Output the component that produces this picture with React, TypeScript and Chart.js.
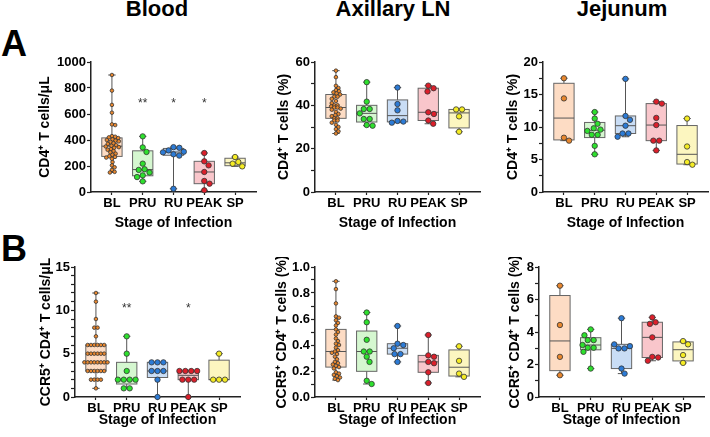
import React, { useEffect, useRef } from 'react';
import { Chart, registerables } from 'chart.js';

Chart.register(...registerables);

const FONT = "'Liberation Sans', Arial, Helvetica, sans-serif";

// ---------- categories & styling ----------
const categories = ['BL', 'PRU', 'RU', 'PEAK', 'SP'];
const pointColors = ['#E8872E', '#2EE02E', '#2C7BD6', '#DC1F2B', '#F5EC24'];
const boxColors = ['#FDDCC4', '#D5F7D0', '#C9DDF5', '#F9C6CB', '#FCF6C0'];
const columnTitles = ['Blood', 'Axillary LN', 'Jejunum'];
const xAxisTitle = 'Stage of Infection';

// ---------- Panel A: CD4+ T cells ----------
const aBloodBL = [900, 780, 670, 610, 520, 515, 430, 425, 420, 415, 405, 400, 395, 390, 385, 375, 370, 360, 355, 350, 345, 340, 330, 325, 315, 305, 295, 285, 275, 270, 265, 255, 230, 205, 190, 170, 155, 150];
const aBloodPRU = [428, 343, 308, 218, 175, 170, 150, 128, 115, 82];
const aBloodRU = [345, 340, 320, 310, 305, 290, 280, 25];
const aBloodPEAK = [300, 236, 205, 154, 85, 64, 13];
const aBloodSP = [269, 231, 218, 197];
const aBloodStars = ['', '**', '*', '*', ''];
const aBloodStarLevel = 680;

const aAxBL = [56, 53, 49, 48, 47, 46.5, 46, 45.5, 45, 44, 44, 43, 42, 41, 40, 40, 39.5, 39, 39, 38.5, 38, 37, 36, 35.5, 35, 34, 34, 33, 33, 32, 31, 30, 29, 28, 27];
const aAxPRU = [50.7, 41.7, 38.3, 38.3, 36.3, 33.7, 33.7, 30.9, 30.6];
const aAxRU = [48.2, 40.6, 37.7, 32.8, 32.5, 32.0];
const aAxPEAK = [49.1, 47.9, 46.4, 36.8, 36.0, 33.0, 31.5];
const aAxSP = [38.1, 38.1, 34.9, 27.8];

const aJejBL = [17.5, 14.4, 8.35, 7.9];
const aJejPRU = [12.3, 11.3, 10.5, 9.8, 9.6, 9.4, 8.8, 8.8, 7.1, 5.8];
const aJejRU = [17.4, 11.7, 11.1, 10.2, 9.0, 9.0, 8.5];
const aJejPEAK = [13.9, 13.6, 11.4, 10.3, 7.9, 7.9, 6.4];
const aJejSP = [11.3, 7.0, 4.6, 4.2];

// ---------- Panel B: CCR5+ CD4+ T cells ----------
const bBloodBL = [12, 11, 9, 8, 8, 7, 6, 6, 6, 6, 6, 6, 5, 5, 5, 5, 5, 5, 4, 4, 4, 4, 4, 4, 4, 4, 3, 3, 3, 3, 3, 3, 2, 2, 2, 2, 1];
const bBloodPRU = [7, 5, 3, 2, 2, 2, 2, 1, 1];
const bBloodRU = [4, 4, 4, 3, 3, 3, 2, 0];
const bBloodPEAK = [3, 3, 3, 3, 2, 2, 2, 0];
const bBloodSP = [5, 2, 2, 2];
const bBloodStars = ['', '**', '', '*', ''];
const bBloodStarLevel = 10.2;

const bAxBL = [0.89, 0.83, 0.72, 0.62, 0.61, 0.59, 0.57, 0.55, 0.52, 0.5, 0.48, 0.45, 0.43, 0.41, 0.4, 0.38, 0.36, 0.35, 0.34, 0.33, 0.31, 0.29, 0.27, 0.26, 0.25, 0.24, 0.23, 0.22, 0.19, 0.18, 0.17, 0.16, 0.15, 0.14, 0.13];
const bAxPRU = [0.65, 0.575, 0.44, 0.35, 0.35, 0.31, 0.27, 0.125, 0.1];
const bAxRU = [0.546, 0.41, 0.4, 0.375, 0.33, 0.33, 0.27];
const bAxPEAK = [0.477, 0.32, 0.31, 0.27, 0.26, 0.19, 0.108];
const bAxSP = [0.39, 0.278, 0.18, 0.155];

const bJejBL = [6.85, 4.43, 2.47, 1.34];
const bJejPRU = [4.16, 3.8, 3.5, 3.5, 3.2, 3.03, 3.03, 2.78, 1.75];
const bJejRU = [4.85, 3.24, 3.13, 2.99, 2.99, 1.75, 1.44];
const bJejPEAK = [4.9, 4.6, 4.5, 3.67, 2.47, 2.43, 2.23];
const bJejSP = [3.44, 3.24, 2.58, 2.1];

// ---------- geometry ----------
const PLOT_W = 165;
const PLOT_H = 130;
const PAD_TOP = 10;
const PAD_RIGHT = 6;
const X_AXIS_H = 40;
const X_MIN = -0.68;
const X_MAX = 4.68;
const BOX_HALF = 0.33;
const CAP_HALF = 0.12;

function quantile(sorted: number[], p: number) {
  const n = sorted.length;
  const pos = (n + 1) * p;
  if (pos <= 1) return sorted[0];
  if (pos >= n) return sorted[n - 1];
  const lo = Math.floor(pos);
  const f = pos - lo;
  return sorted[lo - 1] + f * (sorted[lo] - sorted[lo - 1]);
}

// beeswarm offsets (pixels) for one column
function swarm(vals: number[], d: number, pxPerY: number) {
  const xs = new Array(vals.length).fill(0);
  const placed: number[] = [];
  const groups = new Map<number, number[]>();
  vals.forEach((v, i) => {
    const g = groups.get(v) || [];
    g.push(i);
    groups.set(v, g);
  });
  groups.forEach((idxs) => {
    if (idxs.length > 1) {
      idxs.forEach((i, k) => {
        xs[i] = (k - (idxs.length - 1) / 2) * d;
        placed.push(i);
      });
    }
  });
  const singles = vals
    .map((_, i) => i)
    .filter((i) => !placed.includes(i))
    .sort((a, b) => vals[b] - vals[a]);
  for (const i of singles) {
    const yi = vals[i] * pxPerY;
    const near = placed.filter((j) => Math.abs(vals[j] * pxPerY - yi) < d);
    const cands = [0];
    near.forEach((j) => {
      const dy = vals[j] * pxPerY - yi;
      const dx = Math.sqrt(Math.max(d * d - dy * dy, 0));
      cands.push(xs[j] + dx + 0.01, xs[j] - dx - 0.01);
    });
    cands.sort((a, b) => Math.abs(a) - Math.abs(b));
    for (const c of cands) {
      const ok = near.every((j) => {
        const dy = vals[j] * pxPerY - yi;
        const dx = c - xs[j];
        return dx * dx + dy * dy >= d * d - 0.02;
      });
      if (ok) {
        xs[i] = c;
        break;
      }
    }
    placed.push(i);
  }
  return xs;
}

type PanelProps = {
  values: number[][];
  yMax: number;
  yMajor: number;
  yMinor: number;
  decimals: number;
  yTitle: string;
  stars?: string[];
  starLevel?: number;
  plotLeft: number;
  plotTop: number;
  wy: number;
  xTitlePad: number;
};

function Panel(p: PanelProps) {
  const ref = useRef<HTMLCanvasElement>(null);
  const width = p.wy + PLOT_W + PAD_RIGHT;
  const height = PAD_TOP + PLOT_H + X_AXIS_H;

  useEffect(() => {
    const pxPerX = PLOT_W / (X_MAX - X_MIN);
    const pxPerY = PLOT_H / p.yMax;
    const stats = p.values.map((v) => {
      const s = [...v].sort((a, b) => a - b);
      return { min: s[0], max: s[s.length - 1], q1: quantile(s, 0.25), med: quantile(s, 0.5), q3: quantile(s, 0.75) };
    });
    const pts: { x: number; y: number }[] = [];
    const radii: number[] = [];
    const fills: string[] = [];
    p.values.forEach((vals, ci) => {
      const dense = vals.length > 20;
      const r = dense ? 1.8 : 2.7;
      const d = dense ? 3.3 : 2 * r + 0.5;
      const offs = swarm(vals, d, pxPerY);
      vals.forEach((v, k) => {
        pts.push({ x: ci + offs[k] / pxPerX, y: v });
        radii.push(r);
        fills.push(pointColors[ci]);
      });
    });

    const boxPlugin = {
      id: 'boxes',
      beforeDatasetsDraw(chart: any) {
        const { ctx, scales } = chart;
        const x = scales.x;
        const y = scales.y;
        ctx.save();
        stats.forEach((s, i) => {
          const cx = x.getPixelForValue(i);
          const hw = x.getPixelForValue(i + BOX_HALF) - cx;
          const cw = x.getPixelForValue(i + CAP_HALF) - cx;
          const yMin = y.getPixelForValue(s.min);
          const yMaxP = y.getPixelForValue(s.max);
          const yQ1 = y.getPixelForValue(s.q1);
          const yQ3 = y.getPixelForValue(s.q3);
          const yMed = y.getPixelForValue(s.med);
          ctx.strokeStyle = '#555';
          ctx.lineWidth = 1;
          ctx.beginPath();
          ctx.moveTo(cx, yMaxP);
          ctx.lineTo(cx, yMin);
          ctx.moveTo(cx - cw, yMaxP);
          ctx.lineTo(cx + cw, yMaxP);
          ctx.moveTo(cx - cw, yMin);
          ctx.lineTo(cx + cw, yMin);
          ctx.stroke();
          ctx.fillStyle = boxColors[i];
          ctx.fillRect(cx - hw, yQ3, 2 * hw, yQ1 - yQ3);
          ctx.strokeStyle = '#666';
          ctx.strokeRect(cx - hw, yQ3, 2 * hw, yQ1 - yQ3);
          ctx.strokeStyle = '#555';
          ctx.beginPath();
          ctx.moveTo(cx - hw, yMed);
          ctx.lineTo(cx + hw, yMed);
          ctx.stroke();
        });
        ctx.restore();
      },
      afterDatasetsDraw(chart: any) {
        if (!p.stars || p.starLevel === undefined) return;
        const { ctx, scales } = chart;
        ctx.save();
        ctx.fillStyle = '#333';
        ctx.font = `12px ${FONT}`;
        ctx.textAlign = 'center';
        ctx.textBaseline = 'middle';
        p.stars.forEach((s, i) => {
          if (!s) return;
          ctx.fillText(s, scales.x.getPixelForValue(i), scales.y.getPixelForValue(p.starLevel));
        });
        ctx.restore();
      },
    };

    const isMajor = (v: number) => Math.abs(v / p.yMajor - Math.round(v / p.yMajor)) < 1e-6;

    const chart = new Chart(ref.current as HTMLCanvasElement, {
      type: 'scatter',
      data: {
        datasets: [
          {
            data: pts,
            pointRadius: radii,
            pointBackgroundColor: fills,
            pointBorderColor: '#333',
            pointBorderWidth: 0.8,
            showLine: false,
            clip: false,
          } as any,
        ],
      },
      options: {
        responsive: false,
        animation: false,
        events: [],
        layout: { padding: { top: PAD_TOP, right: PAD_RIGHT, left: 0, bottom: 0 } },
        plugins: { legend: { display: false }, tooltip: { enabled: false } },
        scales: {
          x: {
            type: 'linear',
            min: X_MIN,
            max: X_MAX,
            afterBuildTicks: (ax: any) => {
              ax.ticks = categories.map((_, i) => ({ value: i }));
            },
            afterFit: (ax: any) => {
              ax.height = X_AXIS_H;
            },
            ticks: {
              callback: (v: any) => categories[Math.round(v)] ?? '',
              font: { size: 13, weight: 'bold', family: FONT },
              color: '#000',
              padding: 1,
              autoSkip: false,
              maxRotation: 0,
              minRotation: 0,
            },
            grid: { display: true, drawOnChartArea: false, drawTicks: true, tickLength: 3, tickColor: '#222', tickWidth: 1.2 },
            border: { display: true, color: '#222', width: 1.5 },
            title: {
              display: true,
              text: xAxisTitle,
              font: { size: 14, weight: 'bold', family: FONT },
              color: '#000',
              padding: { top: 0, bottom: p.xTitlePad },
            },
          },
          y: {
            type: 'linear',
            min: 0,
            max: p.yMax,
            afterBuildTicks: (ax: any) => {
              const t: any[] = [];
              const n = Math.round(p.yMax / p.yMinor);
              for (let k = 0; k <= n; k++) t.push({ value: +(k * p.yMinor).toFixed(6) });
              ax.ticks = t;
            },
            afterFit: (ax: any) => {
              ax.width = p.wy;
            },
            ticks: {
              callback: (v: any) => (isMajor(v) ? Number(v).toFixed(p.decimals) : ''),
              font: { size: 13, weight: 'bold', family: FONT },
              color: '#000',
              padding: 1,
              autoSkip: false,
            },
            grid: { display: true, drawOnChartArea: false, drawTicks: true, tickLength: 4, tickColor: '#222', tickWidth: 1.2 },
            border: { display: true, color: '#222', width: 1.5 },
            title: {
              display: true,
              text: p.yTitle,
              font: { size: 14, weight: 'bold', family: FONT },
              color: '#000',
              padding: { top: 2, bottom: 0 },
            },
          },
        },
      } as any,
      plugins: [boxPlugin as any],
    });
    return () => chart.destroy();
  }, []);

  return (
    <canvas
      ref={ref}
      width={width}
      height={height}
      style={{ position: 'absolute', left: p.plotLeft - p.wy, top: p.plotTop - PAD_TOP, width, height }}
    />
  );
}

export default function App() {
  const titleStyle = (cx: number): React.CSSProperties => ({
    position: 'absolute',
    left: cx,
    top: -2,
    transform: 'translateX(-50%)',
    font: `bold 22px/22px ${FONT}`,
    whiteSpace: 'nowrap',
    color: '#000',
  });
  const letterStyle = (top: number): React.CSSProperties => ({
    position: 'absolute',
    left: 1,
    top,
    font: `bold 36px/36px ${FONT}`,
    color: '#000',
  });
  return (
    <div style={{ position: 'absolute', left: 0, top: 0, width: 710, height: 437, overflow: 'hidden', background: '#fff' }}>
      <div style={titleStyle(157)}>{columnTitles[0]}</div>
      <div style={titleStyle(393)}>{columnTitles[1]}</div>
      <div style={titleStyle(622)}>{columnTitles[2]}</div>
      <div style={letterStyle(26)}>A</div>
      <div style={letterStyle(231)}>B</div>

      <Panel
        values={[aBloodBL, aBloodPRU, aBloodRU, aBloodPEAK, aBloodSP]}
        yMax={1000} yMajor={200} yMinor={200} decimals={0}
        yTitle={'CD4\u207A T cells/\u03BCL'}
        stars={aBloodStars} starLevel={aBloodStarLevel}
        plotLeft={91} plotTop={62} wy={56} xTitlePad={0}
      />
      <Panel
        values={[aAxBL, aAxPRU, aAxRU, aAxPEAK, aAxSP]}
        yMax={60} yMajor={20} yMinor={10} decimals={0}
        yTitle={'CD4\u207A T cells (%)'}
        plotLeft={315} plotTop={62} wy={41} xTitlePad={0}
      />
      <Panel
        values={[aJejBL, aJejPRU, aJejRU, aJejPEAK, aJejSP]}
        yMax={20} yMajor={5} yMinor={2.5} decimals={0}
        yTitle={'CD4\u207A T cells (%)'}
        plotLeft={543} plotTop={62} wy={40} xTitlePad={0}
      />
      <Panel
        values={[bBloodBL, bBloodPRU, bBloodRU, bBloodPEAK, bBloodSP]}
        yMax={15} yMajor={5} yMinor={1} decimals={0}
        yTitle={'CCR5\u207A CD4\u207A T cells/\u03BCL'}
        stars={bBloodStars} starLevel={bBloodStarLevel}
        plotLeft={75} plotTop={267} wy={39} xTitlePad={8}
      />
      <Panel
        values={[bAxBL, bAxPRU, bAxRU, bAxPEAK, bAxSP]}
        yMax={1} yMajor={0.2} yMinor={0.1} decimals={1}
        yTitle={'CCR5\u207A CD4\u207A T cells (%)'}
        plotLeft={315} plotTop={267} wy={43} xTitlePad={8}
      />
      <Panel
        values={[bJejBL, bJejPRU, bJejRU, bJejPEAK, bJejSP]}
        yMax={8} yMajor={2} yMinor={1} decimals={0}
        yTitle={'CCR5\u207A CD4\u207A T cells (%)'}
        plotLeft={539} plotTop={267} wy={34} xTitlePad={8}
      />
    </div>
  );
}
